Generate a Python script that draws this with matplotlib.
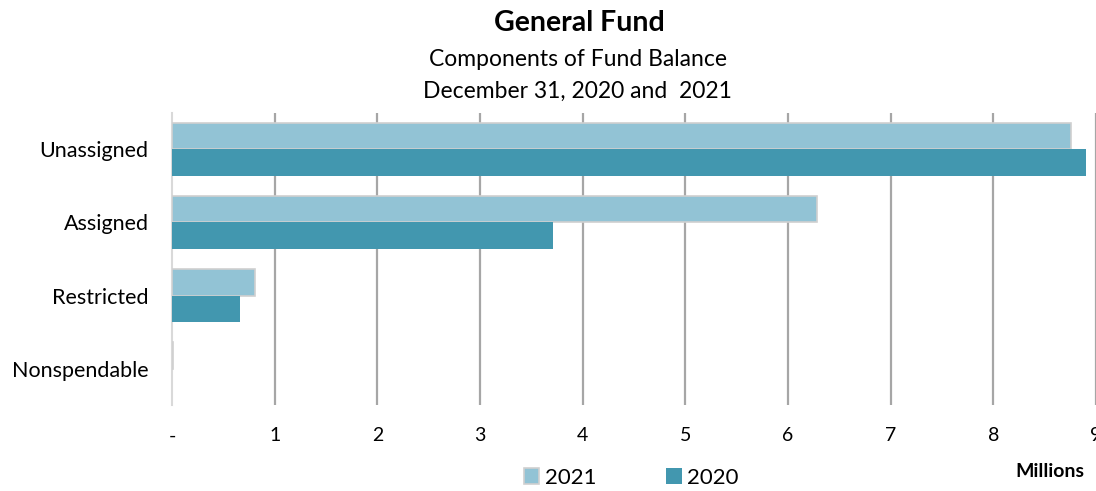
import matplotlib
matplotlib.use("Agg")
import matplotlib.pyplot as plt
import numpy as np

plt.rcParams['font.family'] = ['Lato', 'DejaVu Sans']

categories = ["Nonspendable", "Restricted", "Assigned", "Unassigned"]
values_2021 = [0.01, 0.81, 6.28, 8.76]
values_2020 = [0.0, 0.66, 3.71, 8.90]
xtick_labels = ["-", "1", "2", "3", "4", "5", "6", "7", "8", "9"]

c2021 = "#92C3D5"
c2020 = "#4297AF"

fig = plt.figure(figsize=(10.96, 4.91), dpi=100)
ax = fig.add_axes([0.157, 0.175, 0.843, 0.595])

y = np.arange(len(categories))
h = 0.36
ax.barh(y + h / 2, values_2021, height=h, color=c2021, edgecolor="#d0d0d0", linewidth=1.2, label="2021", zorder=3)
ax.barh(y - h / 2, values_2020, height=h, color=c2020, edgecolor="none", label="2020", zorder=3)

ax.set_xlim(0, 9)
ax.set_ylim(-0.5, len(categories) - 0.5)
ax.set_xticks(range(10))
ax.set_xticklabels(xtick_labels, fontsize=14)
ax.set_yticks(y)
ax.set_yticklabels(categories, fontsize=15.5)
ax.tick_params(axis="y", length=0, pad=17)
ax.tick_params(axis="x", length=0, pad=16)

for xv in range(1, 10):
    ax.axvline(xv, color="#a6a6a6", linewidth=1.6, zorder=1)
for s in ["top", "right", "bottom"]:
    ax.spines[s].set_visible(False)
ax.spines["left"].set_color("#d9d9d9")
ax.spines["left"].set_linewidth(1.5)

fig.text(0.529, 0.937, "General Fund", ha="center", va="baseline", fontsize=20.5, fontweight="bold")
fig.text(0.527, 0.866, "Components of Fund Balance", ha="center", va="baseline", fontsize=16.5)
fig.text(0.527, 0.800, "December 31, 2020 and  2021", ha="center", va="baseline", fontsize=16.5)
fig.text(0.958, 0.0285, "Millions", ha="center", va="baseline", fontsize=14, fontweight="bold")

handles, labels = ax.get_legend_handles_labels()
leg = fig.legend(handles, labels, loc="center", bbox_to_anchor=(0.576, 0.027), ncol=2,
                 frameon=False, fontsize=16, handlelength=0.7, handleheight=0.7,
                 columnspacing=3.15, handletextpad=0.25, borderpad=0.2)

fig.savefig("out.png", dpi=100)
